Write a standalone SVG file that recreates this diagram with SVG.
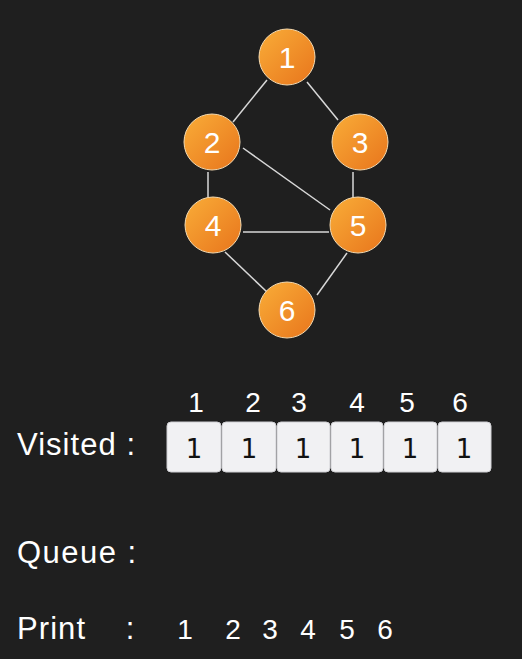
<svg xmlns="http://www.w3.org/2000/svg" width="522" height="659" viewBox="0 0 522 659">
<style>
.bg{fill:#1f1f1f}
.edge{stroke:#d8d8d8;stroke-width:1.5;fill:none}
.node circle{fill:url(#og);stroke:#f3d9b0;stroke-width:1}
.node text{font-family:"Liberation Sans",Arial,sans-serif;font-size:30px;fill:#fff;text-anchor:middle}
.lbl{font-family:"Liberation Sans",Arial,sans-serif;font-size:31px;fill:#fff}
.hdr{font-family:"Liberation Sans",Arial,sans-serif;font-size:28px;fill:#fff;text-anchor:middle}
.box rect{fill:#f1f1f3;stroke:#cfcfd3;stroke-width:1}
.box text{font-family:"DejaVu Sans",sans-serif;font-size:26px;fill:#111;text-anchor:middle}
</style>
<defs>
<linearGradient id="og" x1="0" y1="0" x2="1" y2="1">
<stop offset="0" stop-color="#f9ad38"/>
<stop offset="1" stop-color="#e8751c"/>
</linearGradient>
</defs>
<rect class="bg" width="522" height="659"/>
<g id="connectors">
<line class="edge" x1="267" y1="80" x2="233" y2="122"/>
<line class="edge" x1="307" y1="82" x2="338" y2="120"/>
<line class="edge" x1="208" y1="172" x2="208" y2="198"/>
<line class="edge" x1="243" y1="148" x2="330" y2="210"/>
<line class="edge" x1="353" y1="172" x2="353" y2="198"/>
<line class="edge" x1="243" y1="232" x2="329" y2="232"/>
<line class="edge" x1="225" y1="252" x2="267" y2="292"/>
<line class="edge" x1="347" y1="253" x2="317" y2="295"/>
</g>
<g id="n1" class="node"><circle cx="287" cy="57" r="28"/><text x="287" y="68">1</text></g>
<g id="n2" class="node"><circle cx="212" cy="142" r="28"/><text x="212" y="153">2</text></g>
<g id="n3" class="node"><circle cx="360" cy="142" r="28"/><text x="360" y="153">3</text></g>
<g id="n4" class="node"><circle cx="213" cy="225" r="28"/><text x="213" y="236">4</text></g>
<g id="n5" class="node"><circle cx="358" cy="225" r="28"/><text x="358" y="236">5</text></g>
<g id="n6" class="node"><circle cx="287" cy="310" r="28"/><text x="287" y="321">6</text></g>
<g id="visited-header">
<text class="hdr" x="196" y="412">1</text>
<text class="hdr" x="253" y="412">2</text>
<text class="hdr" x="299" y="412">3</text>
<text class="hdr" x="357" y="412">4</text>
<text class="hdr" x="407" y="412">5</text>
<text class="hdr" x="460" y="412">6</text>
</g>
<text class="lbl" x="17" y="455" textLength="118" lengthAdjust="spacing">Visited :</text>
<g id="visited-array" class="box">
<rect x="167" y="422" width="54" height="50" rx="4"/><text x="194" y="458">1</text>
<rect x="222" y="422" width="54" height="50" rx="4"/><text x="249" y="458">1</text>
<rect x="277" y="422" width="53" height="50" rx="4"/><text x="303" y="458">1</text>
<rect x="331" y="422" width="52" height="50" rx="4"/><text x="357" y="458">1</text>
<rect x="384" y="422" width="53" height="50" rx="4"/><text x="410" y="458">1</text>
<rect x="438" y="422" width="53" height="50" rx="4"/><text x="464" y="458">1</text>
</g>
<text class="lbl" x="17" y="563" textLength="119" lengthAdjust="spacing">Queue :</text>
<text class="lbl" x="17" y="639" textLength="68" lengthAdjust="spacing">Print</text>
<text class="lbl" x="130" y="639" text-anchor="middle">:</text>
<g id="print">
<text class="hdr" x="185" y="639">1</text>
<text class="hdr" x="233" y="639">2</text>
<text class="hdr" x="270" y="639">3</text>
<text class="hdr" x="308" y="639">4</text>
<text class="hdr" x="347" y="639">5</text>
<text class="hdr" x="385" y="639">6</text>
</g>
</svg>
